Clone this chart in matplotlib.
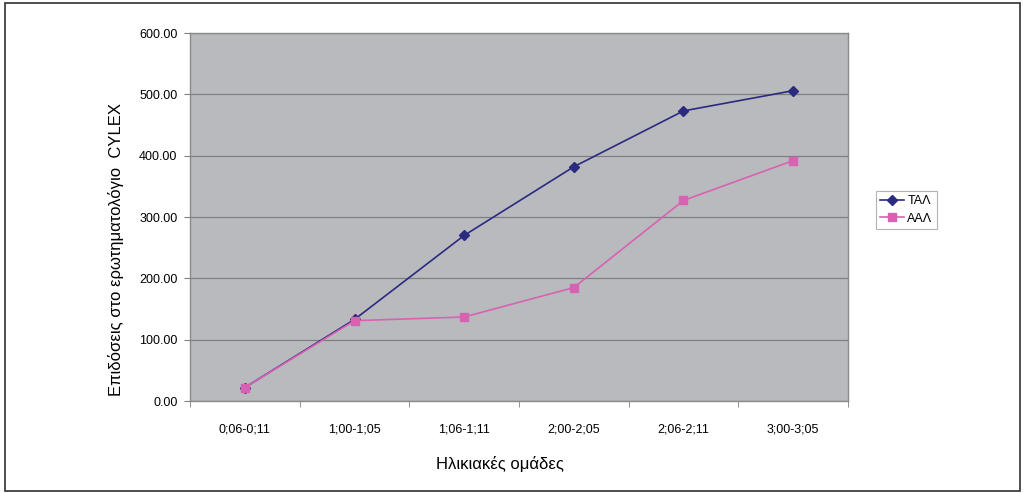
import matplotlib
matplotlib.use("Agg")
import matplotlib.pyplot as plt
from matplotlib.patches import Rectangle
import numpy as np

categories = ["0;06-0;11", "1;00-1;05", "1;06-1;11", "2;00-2;05", "2;06-2;11", "3;00-3;05"]
tal_values = [22, 133, 270, 382, 473, 506]
aal_values = [22, 131, 137, 185, 327, 392]
yticks = [0, 100, 200, 300, 400, 500, 600]

plt.rcParams['font.family'] = ['Liberation Sans', 'DejaVu Sans']

fig = plt.figure(figsize=(10.25, 4.93), dpi=100)
ax = fig.add_axes([0.1854, 0.1866, 0.6419, 0.7464])
ax.set_facecolor('#b9babe')

x = np.arange(len(categories))
ax.plot(x, tal_values, color='#2b2a80', marker='D', markersize=5, linewidth=1.2, label='ΤΑΛ', zorder=3)
ax.plot(x, aal_values, color='#d862b2', marker='s', markersize=6, linewidth=1.2, label='ΑΑΛ', zorder=3)

ax.set_xlim(-0.5, len(categories) - 0.5)
ax.set_ylim(0, 600)
ax.set_yticks(yticks)
ax.set_yticklabels([f"{v:.2f}" for v in yticks], fontsize=9)
ax.set_xticks(x)
ax.set_xticklabels(categories, fontsize=9)
ax.set_xticks(np.arange(-0.5, len(categories), 1.0), minor=True)
ax.tick_params(axis='x', which='major', length=0, pad=16)
ax.tick_params(axis='x', which='minor', length=4, color='#808080', direction='out')
ax.tick_params(axis='y', length=4, color='#808080', direction='out', pad=5)

ax.grid(axis='y', color='#7f7f7f', linewidth=0.9)
ax.set_axisbelow(True)
for s in ax.spines.values():
    s.set_color('#8a8a8a')
    s.set_linewidth(1.0)

ax.set_xlabel("Ηλικιακές ομάδες", fontsize=12)
ax.xaxis.set_label_coords((500 - 190) / 658, (401 - 456) / 368)
ax.set_ylabel("Επιδόσεις στο ερωτηματολόγιο  CYLEX", fontsize=12)
ax.yaxis.set_label_coords((124 - 190) / 658, (401 - 249) / 368)

leg = fig.legend(loc='upper left', bbox_to_anchor=(875.5 / 1025, 1 - 190.5 / 493), fontsize=9,
                 frameon=True, fancybox=False, edgecolor='#a0a0a0', handlelength=1.9,
                 borderpad=0.35, labelspacing=0.45, handletextpad=0.3, borderaxespad=0)
leg.get_frame().set_linewidth(0.8)

fig.patches.append(Rectangle((5 / 1025, 1 - 491 / 493), 1015 / 1025, 488 / 493,
                             transform=fig.transFigure, fill=False, edgecolor='#303030', linewidth=1.2))

fig.savefig("out.png", dpi=100, facecolor='white')
